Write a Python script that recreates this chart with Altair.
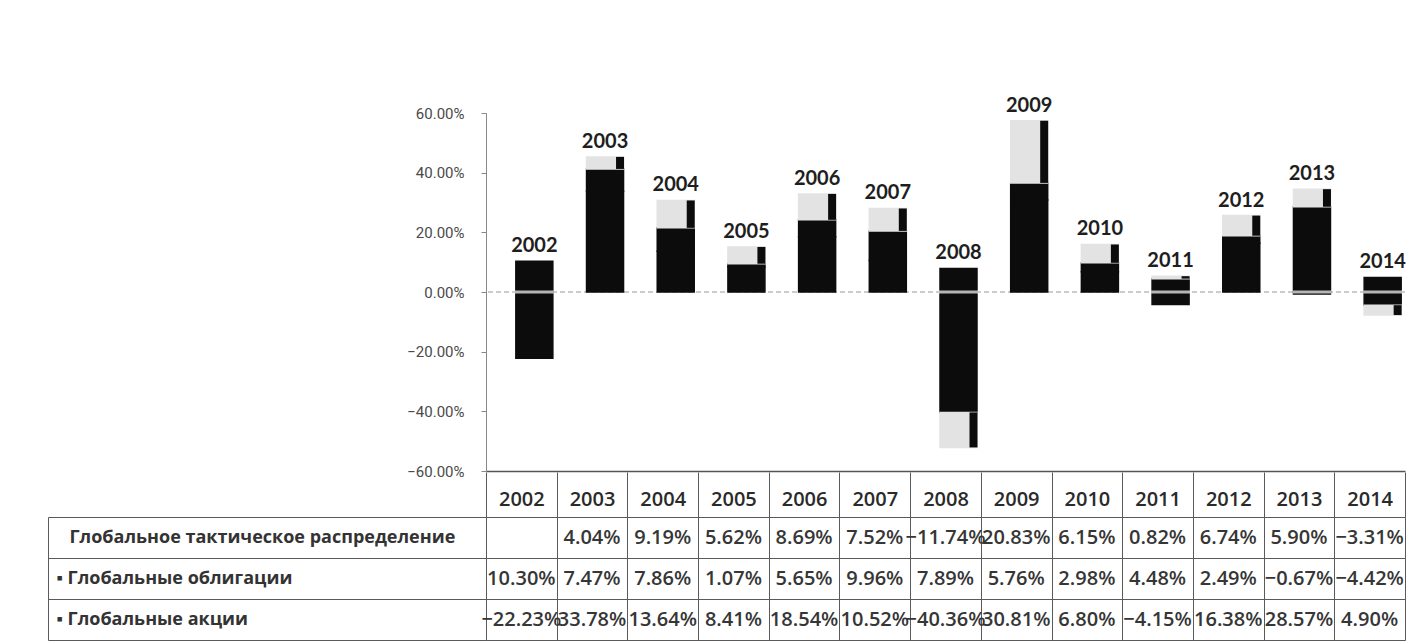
import altair as alt
import pandas as pd

years = ["2002", "2003", "2004", "2005", "2006", "2007", "2008",
         "2009", "2010", "2011", "2012", "2013", "2014"]
tactical = [None, 4.04, 9.19, 5.62, 8.69, 7.52, -11.74, 20.83, 6.15, 0.82, 6.74, 5.90, -3.31]
bonds = [10.30, 7.47, 7.86, 1.07, 5.65, 9.96, 7.89, 5.76, 2.98, 4.48, 2.49, -0.67, -4.42]
equities = [-22.23, 33.78, 13.64, 8.41, 18.54, 10.52, -40.36, 30.81, 6.80, -4.15, 16.38, 28.57, 4.90]

name_tac = "Глобальное тактическое распределение"
name_bond = "Глобальные облигации"
name_eq = "Глобальные акции"
row_names = [name_tac, name_bond, name_eq]
y_ticks = [-60, -40, -20, 0, 20, 40, 60]

records = []
for order, (name, vals) in enumerate([(name_eq, equities), (name_bond, bonds), (name_tac, tactical)]):
    for yr, v in zip(years, vals):
        records.append({"year": yr, "series": name, "order": order, "value": v})
df = pd.DataFrame(records)

W = 919
H = 358
BAR_W = 37
BAR_OFF = 13
STRIP_W = 8

xscale = alt.Scale(domain=years, paddingInner=0, paddingOuter=0)
yscale = alt.Scale(domain=[-60, 60], nice=False, zero=False)
series_scale = alt.Scale(domain=[name_eq, name_bond, name_tac],
                         range=["#0c0c0c", "#0c0c0c", "#e3e3e3"])

x_axis = alt.Axis(title=None, labels=False, ticks=False, grid=False, domain=True,
                  domainColor="#555555", domainWidth=1.5)
y_axis = alt.Axis(title=None, values=y_ticks, grid=False,
                  labelExpr="format(datum.value, '.2f') + '%'",
                  tickSize=5, labelPadding=17, domainColor="#888888", tickColor="#888888",
                  labelColor="#4a4a4a", labelFont="Roboto", labelFontSize=15)

stacked = (alt.Chart(df)
           .transform_filter("isValid(datum.value)")
           .transform_stack(stack="value", groupby=["year"], sort=[alt.SortField("order")],
                            as_=["v0", "v1"]))

zero_rule = alt.Chart(pd.DataFrame({"z": [0]})).mark_rule(
    color="#9a9a9a", strokeDash=[5, 3], strokeWidth=1).encode(
    y=alt.Y("z:Q", scale=yscale, axis=y_axis))

bars = stacked.mark_bar(width=BAR_W, xOffset=BAR_OFF, strokeWidth=1.5).encode(
    x=alt.X("year:N", scale=xscale, axis=x_axis),
    y=alt.Y("v0:Q", scale=yscale, axis=y_axis),
    y2="v1:Q",
    color=alt.Color("series:N", scale=series_scale, legend=None),
    stroke=alt.Stroke("series:N", scale=series_scale, legend=None),
)

strip = stacked.transform_filter(alt.datum.series == name_tac).mark_bar(
    width=STRIP_W, xOffset=BAR_OFF + (BAR_W - STRIP_W) / 2 + 0.5, color="#0c0c0c").encode(
    x=alt.X("year:N", scale=xscale, axis=x_axis),
    y=alt.Y("v0:Q", scale=yscale, axis=y_axis),
    y2="v1:Q",
)

zero_tick = (alt.Chart(df)
             .transform_filter("isValid(datum.value)")
             .transform_aggregate(minv="min(value)", groupby=["year"])
             .transform_filter("datum.minv < 0")
             .transform_calculate(z="0")
             .mark_tick(color="white", thickness=3, size=BAR_W + 2, xOffset=BAR_OFF, orient="horizontal")
             .encode(x=alt.X("year:N", scale=xscale, axis=x_axis),
                     y=alt.Y("z:Q", scale=yscale, axis=y_axis)))

labels = (stacked.transform_aggregate(top="max(v1)", groupby=["year"])
          .mark_text(font="Lato", fontSize=20, fontWeight="bold", color="#1e1e1e",
                     baseline="middle", dy=-15, dx=BAR_OFF)
          .encode(x=alt.X("year:N", scale=xscale, axis=x_axis),
                  y=alt.Y("top:Q", scale=yscale, axis=y_axis),
                  text="year:N"))

bar_chart = alt.layer(zero_rule, bars, strip, zero_tick, labels).properties(width=W, height=H)

# ---- data table ----
tscale_y = alt.Scale(domain=row_names, paddingInner=0, paddingOuter=0)
LINE = "#5a5a5a"
table_x_axis = alt.Axis(orient="top", title=None, tickBand="extent", tickSize=45,
                        labelPadding=-27, labelBaseline="middle", labelAngle=0,
                        labelFont="Open Sans", labelFontSize=20, labelFontWeight=600,
                        labelColor="#2a2a2a", grid=True, gridColor=LINE, tickColor=LINE,
                        domainColor=LINE)
label_expr = ("isValid(datum.value) ? ((datum.value == '" + name_tac +
              "' ? '\u2800' : '\u25aa ') + datum.value) : ''")
table_y_axis = alt.Axis(title=None, tickBand="extent", tickSize=438, labelPadding=-8,
                        labelAlign="left", labelBaseline="middle", labelLimit=0,
                        labelFont="Open Sans", labelFontSize=18, labelFontWeight="bold",
                        labelColor="#333333", labelExpr=label_expr,
                        grid=True, gridColor=LINE, tickColor=LINE, domainColor=LINE)

cells = (alt.Chart(df)
         .transform_filter("isValid(datum.value)")
         .transform_calculate(txt="format(datum.value, '.2f') + '%'")
         .mark_text(font="Open Sans", fontSize=20, fontWeight=600, color="#363636",
                    baseline="middle", align="center")
         .encode(x=alt.X("year:N", scale=xscale, axis=table_x_axis),
                 y=alt.Y("series:N", scale=tscale_y, axis=table_y_axis),
                 text="txt:N"))

border = (alt.Chart(pd.DataFrame({"series": row_names}))
          .mark_point(opacity=0)
          .encode(y=alt.Y("series:N", scale=tscale_y,
                          axis=alt.Axis(orient="left", offset=438, title=None, labels=False,
                                        ticks=False, grid=False, domain=True, domainColor=LINE))))

table = alt.layer(cells, border).resolve_axis(y="independent").properties(width=W, height=123)

chart = (alt.vconcat(bar_chart, table, spacing=46, bounds="flush")
         .properties(padding={"left": 39, "top": 87, "right": 5, "bottom": 0})
         .configure_view(stroke=None))

chart.save("out.html", embed_options={"renderer": "svg", "actions": False})
